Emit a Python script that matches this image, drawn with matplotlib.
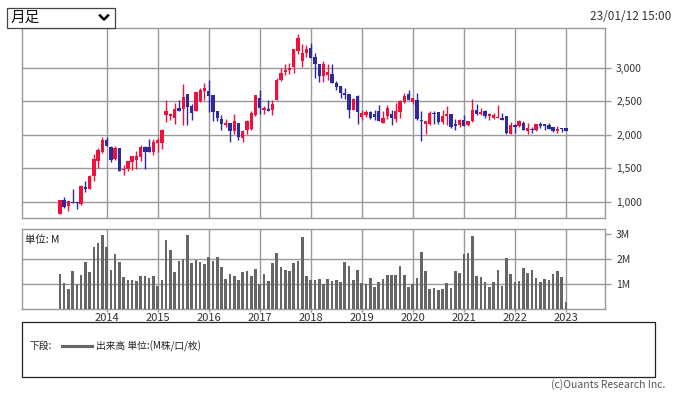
import matplotlib
matplotlib.use("Agg")
import matplotlib.pyplot as plt
import numpy as np
import pandas as pd
from matplotlib.patches import Rectangle
from matplotlib.lines import Line2D

plt.rcParams['font.family'] = ['Noto Sans CJK JP', 'DejaVu Sans']

# monthly bars, Feb 2013 .. Jan 2023
months = pd.date_range("2013-02-01", periods=120, freq="MS")

opens = [820, 1019, 934, 994, 994, 959, 1213, 1193, 1382, 1606,
         1741, 1915, 1815, 1631, 1800, 1467, 1482, 1591, 1616, 1666,
         1820, 1820, 1741, 1880, 1880, 2288, 2273, 2253, 2398, 2378,
         2602, 2423, 2348, 2497, 2652, 2646, 2597, 2348, 2238, 2149,
         2174, 2049, 2174, 1950, 2064, 2079, 2288, 2552, 2363, 2378,
         2363, 2512, 2821, 2935, 2970, 3010, 3249, 3099, 3224, 3298,
         3159, 3060, 2876, 2895, 2910, 2776, 2721, 2622, 2602, 2368,
         2572, 2263, 2293, 2333, 2308, 2358, 2176, 2275, 2303, 2233,
         2338, 2487, 2602, 2487, 2522, 2223, 2164, 2164, 2323, 2338,
         2189, 2273, 2313, 2154, 2139, 2213, 2139, 2198, 2373, 2313,
         2353, 2278, 2253, 2253, 2253, 2273, 2004, 2139, 2129, 2174,
         2054, 2089, 2064, 2154, 2154, 2139, 2114, 2054, 2104, 2094]
highs = [1020, 1069, 1004, 1183, 994, 1243, 1313, 1392, 1716, 1805,
         1965, 1965, 1830, 1830, 1800, 1541, 1601, 1676, 1751, 1850,
         1830, 1930, 1930, 1950, 2079, 2512, 2323, 2472, 2512, 2761,
         2602, 2452, 2637, 2701, 2771, 2821, 2597, 2348, 2298, 2238,
         2174, 2303, 2174, 2074, 2223, 2348, 2587, 2661, 2423, 2522,
         2522, 2846, 2995, 3059, 3070, 3274, 3497, 3348, 3333, 3373,
         3224, 3060, 3094, 3050, 3050, 2801, 2721, 2691, 2602, 2547,
         2597, 2373, 2375, 2353, 2368, 2437, 2353, 2437, 2373, 2472,
         2512, 2626, 2661, 2552, 2622, 2348, 2203, 2348, 2348, 2338,
         2363, 2422, 2313, 2238, 2238, 2288, 2198, 2537, 2462, 2398,
         2363, 2323, 2323, 2437, 2323, 2273, 2189, 2154, 2213, 2198,
         2174, 2114, 2154, 2189, 2154, 2179, 2114, 2134, 2104, 2094]
lows = [810, 904, 860, 979, 895, 954, 1143, 1193, 1308, 1502,
        1731, 1825, 1591, 1626, 1452, 1392, 1457, 1467, 1492, 1601,
        1492, 1741, 1701, 1741, 1780, 2188, 2223, 2164, 2353, 2149,
        2139, 2213, 2348, 2487, 2512, 2338, 2204, 2204, 2074, 2114,
        1890, 2015, 1915, 1890, 2015, 2064, 2273, 2313, 2313, 2353,
        2288, 2512, 2796, 2886, 2910, 2920, 3199, 3010, 3159, 3144,
        2850, 2786, 2786, 2811, 2771, 2661, 2552, 2537, 2253, 2368,
        2159, 2223, 2263, 2238, 2215, 2198, 2176, 2238, 2149, 2188,
        2253, 2472, 2512, 2462, 2223, 1905, 2004, 2150, 2164, 2164,
        2164, 2139, 2099, 2074, 2114, 2129, 2124, 2189, 2288, 2288,
        2253, 2223, 2228, 2253, 2213, 2004, 2004, 2024, 2114, 2064,
        2015, 2024, 2054, 2099, 2074, 2084, 2039, 2024, 2039, 2054]
closes = [1019, 919, 1004, 979, 984, 1228, 1193, 1377, 1631, 1766,
          1915, 1830, 1626, 1800, 1457, 1487, 1601, 1676, 1676, 1815,
          1741, 1741, 1890, 1915, 2064, 2353, 2303, 2388, 2353, 2562,
          2413, 2323, 2637, 2661, 2696, 2572, 2338, 2248, 2164, 2179,
          2049, 2203, 1965, 2049, 2203, 2328, 2587, 2403, 2398, 2353,
          2452, 2811, 2920, 2960, 2995, 3274, 3448, 3224, 3284, 3144,
          3060, 2876, 3050, 2935, 2776, 2711, 2622, 2597, 2368, 2530,
          2338, 2318, 2333, 2250, 2263, 2198, 2243, 2398, 2250, 2353,
          2507, 2572, 2522, 2552, 2238, 2203, 2203, 2323, 2303, 2189,
          2278, 2303, 2114, 2129, 2213, 2129, 2198, 2363, 2313, 2338,
          2278, 2303, 2288, 2263, 2213, 2024, 2139, 2114, 2198, 2064,
          2094, 2064, 2154, 2129, 2129, 2084, 2049, 2084, 2079, 2054]

# volume in millions
volume = [1.39, 1.04, 0.79, 1.51, 0.99, 1.35, 1.87, 1.47, 2.48, 2.64,
          2.96, 2.48, 1.55, 2.20, 1.87, 1.27, 1.15, 1.15, 1.11, 1.31,
          1.31, 1.23, 1.31, 0.91, 1.15, 2.76, 2.36, 1.47, 1.92, 2.00,
          2.96, 1.83, 1.96, 1.87, 1.79, 2.08, 1.92, 2.08, 1.67, 1.19,
          1.39, 1.31, 1.15, 1.47, 1.51, 1.31, 1.59, 0.99, 1.39, 1.11,
          1.83, 2.24, 1.67, 1.55, 1.51, 1.83, 1.92, 2.88, 1.31, 1.15,
          1.15, 1.19, 0.99, 1.19, 1.11, 1.15, 1.07, 1.87, 1.71, 1.15,
          1.55, 1.03, 0.99, 1.23, 0.87, 1.07, 1.19, 1.35, 1.35, 1.35,
          1.71, 1.35, 0.87, 0.99, 1.23, 2.28, 1.51, 0.79, 0.83, 0.75,
          0.79, 1.03, 0.83, 1.51, 1.43, 2.20, 2.24, 2.92, 1.31, 1.27,
          1.07, 0.87, 1.07, 1.55, 0.91, 2.04, 1.39, 1.07, 1.11, 1.63,
          1.43, 1.55, 1.23, 1.07, 1.19, 1.15, 1.39, 1.51, 1.27, 0.26]

price_ticks = [1000, 1500, 2000, 2500, 3000]
vol_ticks = [1, 2, 3]
vol_labels = ["1M", "2M", "3M"]

UP = "#F0103C"
DOWN = "#2C2A9C"
GRID = "#999999"
W, H = 676, 395


def fx(px):
    return px / W


def fy(py):
    return 1 - py / H


fig = plt.figure(figsize=(W / 100, H / 100), dpi=100)
ax = fig.add_axes([fx(22), fy(218), fx(583), 190 / H])
axv = fig.add_axes([fx(22), fy(308.5), fx(583), 79.5 / H])

x = np.arange(len(months))
o = np.array(opens)
h = np.array(highs)
l = np.array(lows)
c = np.array(closes)
up = c >= o
cols = np.where(up, UP, DOWN)

ax.vlines(x, l, h, colors=cols, linewidth=1.0, zorder=3)
body_lo = np.minimum(o, c)
body_h = np.maximum(np.abs(c - o), 12)
ax.bar(x, body_h, bottom=body_lo, width=0.78, color=cols, linewidth=0, zorder=4)

axv.bar(x, volume, width=0.62, color="#666666", linewidth=0, zorder=3)

jan_idx = [i for i, m in enumerate(months) if m.month == 1]
jan_lab = [str(months[i].year) for i in jan_idx]

for a in (ax, axv):
    a.set_xlim(-8.9, 128.2)
    a.set_xticks(jan_idx)
    a.grid(True, axis="x", color=GRID, linewidth=1.0, zorder=0)
    a.set_axisbelow(True)
    for s in a.spines.values():
        s.set_color(GRID)
        s.set_linewidth(1.0)
    a.yaxis.tick_right()
    a.tick_params(axis="both", colors=GRID, labelcolor="#333333",
                  labelsize=7.5, length=4, width=1.0)

ax.set_ylim(757, 3593)
ax.set_yticks(price_ticks)
ax.set_yticklabels([f"{v:,}" for v in price_ticks])
ax.grid(True, axis="y", color=GRID, linewidth=1.0, zorder=0)
ax.tick_params(axis="x", labelbottom=False, length=0)
ax.tick_params(axis="y", pad=4)

axv.set_ylim(0, 3.2)
axv.set_yticks(vol_ticks)
axv.set_yticklabels(vol_labels)
# only 1M and 2M get a grid line
for v in vol_ticks[:2]:
    axv.axhline(v, color=GRID, linewidth=1.0, zorder=0)
axv.set_xticklabels(jan_lab)
axv.tick_params(axis="x", length=2, pad=1, labelsize=8)
axv.tick_params(axis="y", pad=4)
axv.text(0.005, 0.93, "単位: M", transform=axv.transAxes, fontsize=7.5,
         color="#222222", va="top", ha="left")

# dropdown
fig.add_artist(Rectangle((fx(7), fy(28)), fx(108), 20 / H, transform=fig.transFigure,
                         fill=True, facecolor="white", edgecolor="#444444", linewidth=0.9))
fig.text(fx(11), fy(18), "月足", fontsize=10.5, va="center", ha="left", color="#111111")
fig.add_artist(Line2D([fx(100), fx(104), fx(108)], [fy(15.5), fy(19.5), fy(15.5)],
                      transform=fig.transFigure, color="black", linewidth=1.8))

fig.text(fx(671), fy(17), "23/01/12 15:00", fontsize=8.5, va="center", ha="right",
         color="#333333")

# legend box
fig.add_artist(Rectangle((fx(22), fy(377)), fx(633), 55 / H, transform=fig.transFigure,
                         fill=False, edgecolor="#222222", linewidth=0.9))
fig.text(fx(30), fy(346), "下段:", fontsize=7, va="center", ha="left", color="#222222")
fig.add_artist(Line2D([fx(62), fx(92)], [fy(346), fy(346)], transform=fig.transFigure,
                      color="#666666", linewidth=2.2))
fig.text(fx(96), fy(346), "出来高 単位:(M株/口/枚)", fontsize=7, va="center", ha="left",
         color="#222222")
fig.text(fx(665), fy(385), "(c)Ouants Research Inc.", fontsize=7.5, va="center",
         ha="right", color="#555555")

fig.savefig("out.png", dpi=100)
